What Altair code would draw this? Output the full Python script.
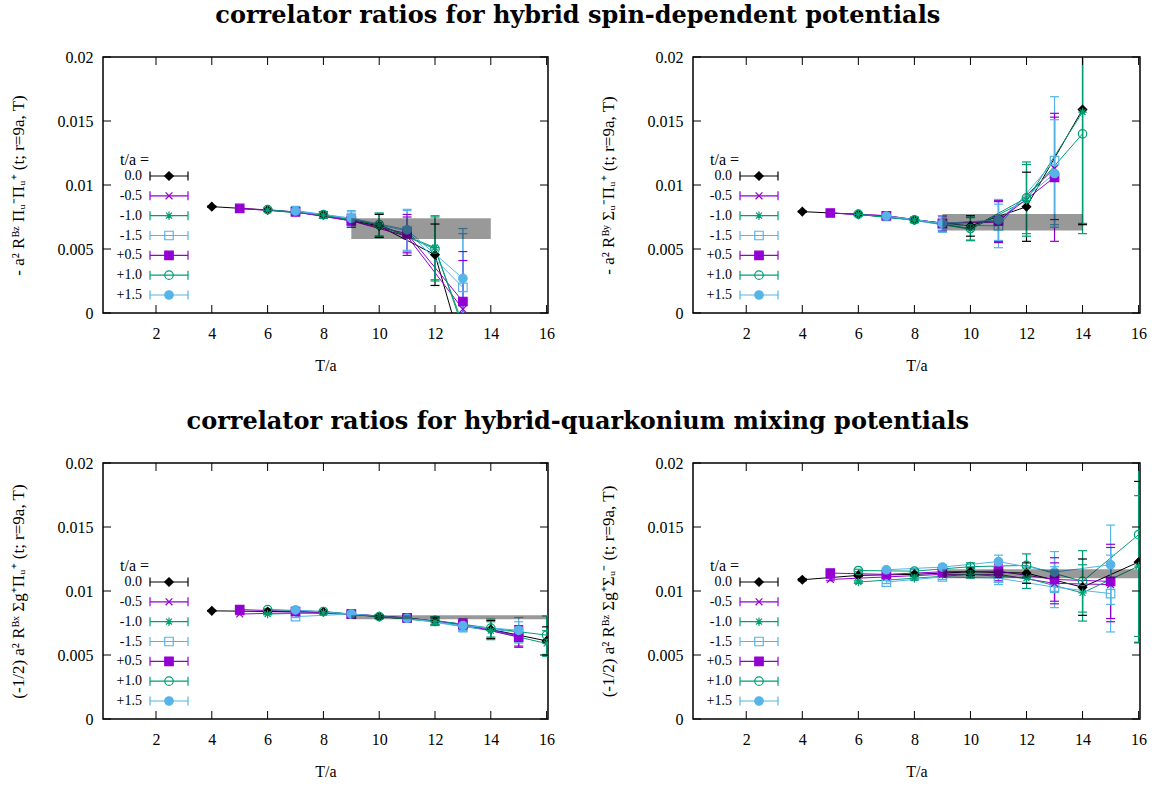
import altair as alt
import pandas as pd

SERIF = "Liberation Serif"
TITLE_FONT = "DejaVu Serif"

SERIES = ["0.0", "-0.5", "-1.0", "-1.5", "+0.5", "+1.0", "+1.5"]
XTICKS = [2, 4, 6, 8, 10, 12, 14, 16]
YTICKS = [0, 0.005, 0.01, 0.015, 0.02]

# T/a values of each series (upper panels / lower panels)
T_TOP = {
    "0.0": [4, 6, 8, 10, 12, 14], "-0.5": [5, 7, 9, 11, 13], "-1.0": [6, 8, 10, 12, 14],
    "-1.5": [7, 9, 11, 13], "+0.5": [5, 7, 9, 11, 13], "+1.0": [6, 8, 10, 12, 14],
    "+1.5": [7, 9, 11, 13],
}
T_BOT = {
    "0.0": [4, 6, 8, 10, 12, 14, 16], "-0.5": [5, 7, 9, 11, 13, 15], "-1.0": [6, 8, 10, 12, 14, 16],
    "-1.5": [7, 9, 11, 13, 15], "+0.5": [5, 7, 9, 11, 13, 15], "+1.0": [6, 8, 10, 12, 14, 16],
    "+1.5": [7, 9, 11, 13, 15],
}

# Panel 1: -a^2 R^{Bz}_{Pi_u^- Pi_u^+}
P1_VAL = {
    "0.0": [0.00831, 0.00805, 0.00766, 0.0068, 0.00455, -0.0105],
    "-0.5": [0.00815, 0.0079, 0.0072, 0.0060, 0.0003],
    "-1.0": [0.00803, 0.00764, 0.0069, 0.0051, -0.0075],
    "-1.5": [0.0080, 0.0074, 0.0064, 0.0020],
    "+0.5": [0.00817, 0.0079, 0.0072, 0.0062, 0.0009],
    "+1.0": [0.00808, 0.00768, 0.0069, 0.0050, -0.0068],
    "+1.5": [0.00797, 0.0074, 0.0065, 0.0027],
}
P1_ERR = {
    "0.0": [0.00005, 0.0001, 0.00025, 0.0009, 0.0024, 0.006],
    "-0.5": [0.00007, 0.00015, 0.0005, 0.0015, 0.0038],
    "-1.0": [0.0001, 0.00025, 0.0009, 0.0025, 0.006],
    "-1.5": [0.00015, 0.0005, 0.0016, 0.0042],
    "+0.5": [0.00007, 0.00015, 0.0005, 0.0015, 0.0039],
    "+1.0": [0.0001, 0.00025, 0.0009, 0.0025, 0.006],
    "+1.5": [0.00015, 0.0006, 0.0016, 0.0039],
}
P1_BAND = [9, 14, 0.00579, 0.0074]

# Panel 2: -a^2 R^{By}_{Sigma_u^- Pi_u^+}
P2_VAL = {
    "0.0": [0.00792, 0.00771, 0.00727, 0.0068, 0.0083, 0.0159],
    "-0.5": [0.00781, 0.0076, 0.0070, 0.0071, 0.0113],
    "-1.0": [0.0077, 0.00725, 0.00655, 0.0088, 0.0157],
    "-1.5": [0.00755, 0.0069, 0.0068, 0.0119],
    "+0.5": [0.00781, 0.0076, 0.0070, 0.0072, 0.0106],
    "+1.0": [0.00772, 0.00728, 0.0066, 0.0090, 0.0140],
    "+1.5": [0.00758, 0.0070, 0.00727, 0.0109],
}
P2_ERR = {
    "0.0": [0.00005, 0.0001, 0.0002, 0.0008, 0.0027, 0.009],
    "-0.5": [0.00006, 0.00015, 0.0006, 0.0016, 0.0040],
    "-1.0": [0.0001, 0.0002, 0.0009, 0.0028, 0.0095],
    "-1.5": [0.00015, 0.0006, 0.0017, 0.0050],
    "+0.5": [0.00006, 0.00015, 0.0006, 0.0016, 0.0050],
    "+1.0": [0.0001, 0.0002, 0.0009, 0.0028, 0.0070],
    "+1.5": [0.00015, 0.0006, 0.0016, 0.0042],
}
P2_BAND = [9, 14, 0.00644, 0.00774]

# Panel 3: (-1/2) a^2 R^{Bx}_{Sigma_g^+ Pi_u^+}
P3_VAL = {
    "0.0": [0.00845, 0.0084, 0.00837, 0.0080, 0.00765, 0.0070, 0.0061],
    "-0.5": [0.0082, 0.0083, 0.0082, 0.00787, 0.0074, 0.0065],
    "-1.0": [0.0082, 0.0083, 0.0080, 0.0076, 0.0069, 0.0059],
    "-1.5": [0.0080, 0.0082, 0.0079, 0.0072, 0.0068],
    "+0.5": [0.00855, 0.0084, 0.0082, 0.0079, 0.0074, 0.0064],
    "+1.0": [0.00855, 0.0084, 0.0080, 0.0077, 0.0071, 0.00655],
    "+1.5": [0.00852, 0.0082, 0.00787, 0.0073, 0.00693],
}
P3_ERR = {
    "0.0": [0.00004, 0.00006, 0.0001, 0.00015, 0.0003, 0.0007, 0.0011],
    "-0.5": [0.00005, 0.00008, 0.00012, 0.0002, 0.0004, 0.0008],
    "-1.0": [0.00006, 0.0001, 0.00015, 0.0003, 0.0007, 0.0010],
    "-1.5": [0.00008, 0.00012, 0.0002, 0.0004, 0.0008],
    "+0.5": [0.00005, 0.00008, 0.00012, 0.0002, 0.0004, 0.0008],
    "+1.0": [0.00006, 0.0001, 0.00015, 0.0003, 0.0007, 0.0015],
    "+1.5": [0.00008, 0.00012, 0.0002, 0.0004, 0.0010],
}
P3_BAND = [9, 16, 0.0078, 0.0081]

# Panel 4: (-1/2) a^2 R^{Bz}_{Sigma_g^+ Sigma_u^-}
P4_VAL = {
    "0.0": [0.01088, 0.01122, 0.0113, 0.0115, 0.0114, 0.0103, 0.01226],
    "-0.5": [0.0109, 0.0111, 0.0113, 0.0113, 0.0106, 0.0105],
    "-1.0": [0.0107, 0.0110, 0.0113, 0.0110, 0.00985, 0.01195],
    "-1.5": [0.0107, 0.0111, 0.0110, 0.0103, 0.0098],
    "+0.5": [0.0114, 0.0113, 0.0115, 0.01155, 0.0109, 0.01075],
    "+1.0": [0.0116, 0.01155, 0.0119, 0.0120, 0.01075, 0.0144],
    "+1.5": [0.01166, 0.01187, 0.0123, 0.01148, 0.01205],
}
P4_ERR = {
    "0.0": [0.00008, 0.0001, 0.00015, 0.0003, 0.0008, 0.0022, 0.0063],
    "-0.5": [0.0001, 0.00012, 0.0002, 0.0005, 0.0016, 0.0029],
    "-1.0": [0.0001, 0.00015, 0.0003, 0.0008, 0.0022, 0.0055],
    "-1.5": [0.00012, 0.0002, 0.0005, 0.0016, 0.0030],
    "+0.5": [0.0001, 0.00012, 0.0002, 0.0005, 0.0017, 0.0029],
    "+1.0": [0.0001, 0.00015, 0.0003, 0.0009, 0.0024, 0.0084],
    "+1.5": [0.00012, 0.0002, 0.0005, 0.0016, 0.0031],
}
P4_BAND = [9, 16, 0.0110, 0.0117]

# ---- styles ----
COLORS = ["#000000", "#9400D3", "#009E73", "#56B4E9", "#9400D3", "#009E73", "#56B4E9"]
FILLS = ["#000000", "transparent", "transparent", "transparent", "#9400D3", "transparent", "#56B4E9"]
X_PATH = "M-0.8,-0.8L0.8,0.8M-0.8,0.8L0.8,-0.8"
STAR_PATH = "M-1,0L1,0M0,-1L0,1M-0.7,-0.7L0.7,0.7M-0.7,0.7L0.7,-0.7"
SHAPES = ["diamond", X_PATH, STAR_PATH, "square", "square", "circle", "circle"]
CAP_PATH = "M0,-1L0,1"

H = 256


def panel(T, VAL, ERR, band, ytitle, W):
    rows = []
    for s in SERIES:
        for t, v, e in zip(T[s], VAL[s], ERR[s]):
            rows.append(dict(series=s, T=t, v=v, lo=v - e, hi=v + e))
    df = pd.DataFrame(rows)

    xs = alt.Scale(domain=[0.1, 16.05], nice=False, zero=False)
    ys = alt.Scale(domain=[0, 0.02], nice=False, zero=False)
    xax = alt.Axis(values=XTICKS, labelPadding=12, titlePadding=16, labelFlush=False)
    yax = alt.Axis(values=YTICKS, format="~g", labelPadding=10, titlePadding=30, titleFontSize=17)
    X = alt.X("T:Q", scale=xs, axis=xax, title="T/a")
    Y = alt.Y("v:Q", scale=ys, axis=yax, title=ytitle)
    Ylo = alt.Y("lo:Q", scale=ys, axis=yax, title=ytitle)
    Yhi = alt.Y("hi:Q", scale=ys, axis=yax, title=ytitle)
    col = alt.Color("series:N", scale=alt.Scale(domain=SERIES, range=COLORS), legend=None)
    shp = alt.Shape("series:N", scale=alt.Scale(domain=SERIES, range=SHAPES), legend=None)
    stk = alt.Stroke("series:N", scale=alt.Scale(domain=SERIES, range=COLORS), legend=None)
    fil = alt.Fill("series:N", scale=alt.Scale(domain=SERIES, range=FILLS), legend=None)

    base = alt.Chart(df)
    lines = base.mark_line(clip=True, strokeWidth=1).encode(X, Y, col)
    ebar = base.mark_rule(clip=True, strokeWidth=1.2).encode(X, Ylo, y2="hi:Q", color=col)
    cap_lo = base.mark_tick(orient="horizontal", size=9, thickness=1.2, clip=True, opacity=1).encode(X, Ylo, color=col)
    cap_hi = base.mark_tick(orient="horizontal", size=9, thickness=1.2, clip=True, opacity=1).encode(X, Yhi, color=col)
    pts = base.mark_point(clip=True, opacity=1, strokeWidth=1.2, size=72).encode(X, Y, shape=shp, stroke=stk, fill=fil)

    bdf = pd.DataFrame([dict(T=band[0], T2=band[1], v=band[2], v2=band[3])])
    brect = alt.Chart(bdf).mark_rect(color="black", opacity=0.4, clip=True).encode(X, x2="T2:Q", y=Y, y2="v2:Q")

    xt = alt.Chart(pd.DataFrame(dict(T=XTICKS)))
    yt = alt.Chart(pd.DataFrame(dict(v=YTICKS)))
    tk = dict(color="black", strokeWidth=1)
    xt_b = xt.mark_rule(**tk).encode(X, y=alt.value(H), y2=alt.value(H - 8))
    xt_t = xt.mark_rule(**tk).encode(X, y=alt.value(0), y2=alt.value(8))
    yt_l = yt.mark_rule(**tk).encode(Y, x=alt.value(0), x2=alt.value(8))
    yt_r = yt.mark_rule(**tk).encode(Y, x=alt.value(W), x2=alt.value(W - 8))

    data_layer = alt.layer(lines, ebar, cap_lo, cap_hi, pts, brect, xt_b, xt_t, yt_l, yt_r)

    ldf = alt.Chart(pd.DataFrame(dict(series=SERIES)))
    LY = alt.Y("series:N", scale=alt.Scale(type="point", domain=SERIES, range=[119, 238], padding=0), axis=None)
    l_line = ldf.mark_rule(strokeWidth=1.2).encode(x=alt.value(47), x2=alt.value(85), y=LY, color=col)
    l_c1 = ldf.mark_point(shape=CAP_PATH, size=81, opacity=1, strokeWidth=1.2, filled=False).encode(x=alt.value(47), y=LY, color=col)
    l_c2 = ldf.mark_point(shape=CAP_PATH, size=81, opacity=1, strokeWidth=1.2, filled=False).encode(x=alt.value(85), y=LY, color=col)
    l_pt = ldf.mark_point(opacity=1, strokeWidth=1.2, size=72).encode(x=alt.value(66), y=LY, shape=shp, stroke=stk, fill=fil)
    l_tx = ldf.mark_text(align="right", baseline="middle", fontSize=14, font=SERIF, color="black").encode(
        x=alt.value(39), y=LY, text="series:N")
    l_hd = alt.Chart(pd.DataFrame(dict(t=["t/a ="]))).mark_text(
        align="left", baseline="middle", fontSize=16, font=SERIF, color="black").encode(
        x=alt.value(17), y=alt.value(103), text="t:N")
    leg_layer = alt.layer(l_line, l_c1, l_c2, l_pt, l_tx, l_hd)

    return alt.layer(data_layer, leg_layer).resolve_scale(y="independent").properties(width=W, height=H)


YT1 = "- a² Rᴮᶻ Πᵤ⁻Πᵤ⁺ (t; r=9a, T)"
YT2 = "- a² Rᴮʸ Σᵤ⁻Πᵤ⁺ (t; r=9a, T)"
YT3 = "(-1/2) a² Rᴮˣ Σg⁺Πᵤ⁺  (t; r=9a, T)"
YT4 = "(-1/2) a² Rᴮᶻ Σg⁺Σᵤ⁻  (t; r=9a, T)"

p1 = panel(T_TOP, P1_VAL, P1_ERR, P1_BAND, YT1, 445)
p2 = panel(T_TOP, P2_VAL, P2_ERR, P2_BAND, YT2, 447)
p3 = panel(T_BOT, P3_VAL, P3_ERR, P3_BAND, YT3, 445)
p4 = panel(T_BOT, P4_VAL, P4_ERR, P4_BAND, YT4, 447)

tp = dict(font=TITLE_FONT, fontSize=24, fontWeight="bold", anchor="middle", offset=20, color="black")
row1 = alt.hconcat(p1, p2, spacing=42).properties(
    title=alt.TitleParams("correlator ratios for hybrid spin-dependent potentials", **tp))
row2 = alt.hconcat(p3, p4, spacing=42).properties(
    title=alt.TitleParams("correlator ratios for hybrid-quarkonium mixing potentials", **tp))

chart = alt.vconcat(row1, row2, spacing=36).properties(
    padding={"left": 8, "top": 4, "right": 0, "bottom": 0}, background="white"
).configure_view(stroke="black", strokeWidth=1.5).configure_axis(
    labelFont=SERIF, labelFontSize=16, titleFont=SERIF, titleFontSize=16, titleFontWeight="normal",
    labelColor="black", titleColor="black", ticks=False, domain=False, grid=False,
)

chart.save("out.html", embed_options={"renderer": "svg", "actions": False})
